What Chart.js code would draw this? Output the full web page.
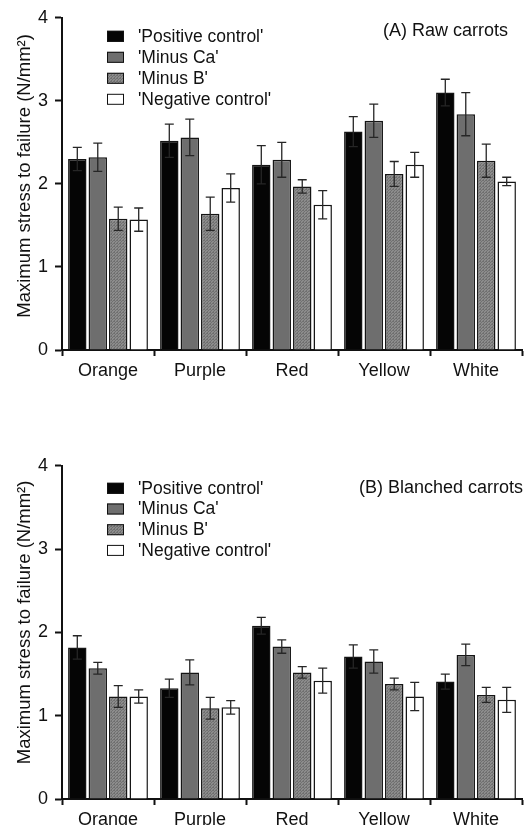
<!DOCTYPE html>
<html>
<head>
<meta charset="utf-8">
<script src="https://cdn.jsdelivr.net/npm/chart.js@4.4.1/dist/chart.umd.min.js"></script>
<style>
  html, body { margin: 0; padding: 0; background: #fff; }
  #wrap { position: relative; width: 528px; height: 825px; overflow: hidden; }
  .panel { position: absolute; left: 0; width: 528px; }
  #panelA { top: 0; height: 400px; }
  #panelB { top: 448px; height: 377px; }
</style>
</head>
<body>
<div id="wrap">
  <div class="panel" id="panelA"><canvas id="chartA"></canvas></div>
  <div class="panel" id="panelB"><canvas id="chartB"></canvas></div>
</div>
<script>
// Data
const categories = ['Orange', 'Purple', 'Red', 'Yellow', 'White'];
const seriesNames = ["'Positive control'", "'Minus Ca'", "'Minus B'", "'Negative control'"];
const yTicks = [0, 1, 2, 3, 4];
const yTitle = 'Maximum stress to failure (N/mm²)';

// (A) Raw carrots
const rawPositive = [2.30, 2.52, 2.23, 2.63, 3.10];
const rawMinusCa  = [2.32, 2.56, 2.29, 2.76, 2.84];
const rawMinusB   = [1.58, 1.64, 1.97, 2.12, 2.28];
const rawNegative = [1.57, 1.95, 1.75, 2.23, 2.03];
const rawPositiveErr = [0.14, 0.20, 0.23, 0.18, 0.16];
const rawMinusCaErr  = [0.17, 0.22, 0.21, 0.20, 0.26];
const rawMinusBErr   = [0.14, 0.20, 0.08, 0.15, 0.20];
const rawNegativeErr = [0.14, 0.17, 0.17, 0.15, 0.05];

// (B) Blanched carrots
const blPositive = [1.82, 1.33, 2.08, 1.71, 1.41];
const blMinusCa  = [1.57, 1.52, 1.83, 1.65, 1.73];
const blMinusB   = [1.23, 1.09, 1.52, 1.38, 1.25];
const blNegative = [1.23, 1.10, 1.42, 1.23, 1.19];
const blPositiveErr = [0.14, 0.11, 0.10, 0.14, 0.09];
const blMinusCaErr  = [0.07, 0.15, 0.08, 0.14, 0.13];
const blMinusBErr   = [0.13, 0.13, 0.07, 0.07, 0.09];
const blNegativeErr = [0.08, 0.08, 0.15, 0.17, 0.15];

const FONT = "'Liberation Sans', Arial, sans-serif";

// fine stipple fill for 'Minus B'
function makeDotPattern() {
    const c = document.createElement('canvas');
    c.width = 3; c.height = 3;
    const g = c.getContext('2d');
    g.fillStyle = '#8c8c8c';
    g.fillRect(0, 0, 3, 3);
    g.fillStyle = '#707070';
    g.fillRect(0, 0, 1, 1);
    g.fillRect(2, 0, 1, 1);
    g.fillRect(1, 1, 1, 1);
    g.fillRect(0, 2, 1, 1);
    return g.createPattern(c, 'repeat');
}

const fills = ['#050505', '#6e6e6e', null, '#ffffff'];

// error bars drawn on top of the bars
const errorBars = {
    id: 'errorBars',
    afterDatasetsDraw(chart) {
        const ctx = chart.ctx;
        const y = chart.scales.y;
        ctx.save();
        ctx.strokeStyle = '#262626';
        ctx.lineWidth = 1.3;
        chart.data.datasets.forEach((ds, i) => {
            const meta = chart.getDatasetMeta(i);
            meta.data.forEach((bar, j) => {
                const v = ds.data[j], e = ds.err[j];
                const top = y.getPixelForValue(v + e);
                const bot = y.getPixelForValue(v - e);
                ctx.beginPath();
                ctx.moveTo(bar.x, top); ctx.lineTo(bar.x, bot);
                ctx.moveTo(bar.x - 4.5, top); ctx.lineTo(bar.x + 4.5, top);
                ctx.moveTo(bar.x - 4.5, bot); ctx.lineTo(bar.x + 4.5, bot);
                ctx.stroke();
            });
        });
        ctx.restore();
    }
};

// legend block, panel title and y-axis title
const panelNotes = {
    id: 'panelNotes',
    afterDraw(chart, args, opts) {
        const ctx = chart.ctx;
        const area = chart.chartArea;
        ctx.save();
        ctx.font = '17.5px ' + FONT;
        ctx.textBaseline = 'middle';
        chart.data.datasets.forEach((ds, i) => {
            const cy = area.top + opts.legendTop + i * opts.legendGap;
            ctx.fillStyle = ds.backgroundColor;
            ctx.fillRect(107, cy - 5, 17, 11);
            ctx.strokeStyle = '#111';
            ctx.lineWidth = 1;
            ctx.strokeRect(107.5, cy - 4.5, 16, 10);
            ctx.fillStyle = '#111';
            ctx.textAlign = 'left';
            ctx.fillText(ds.label, 138, cy + 1);
        });
        ctx.font = '18px ' + FONT;
        ctx.textAlign = 'right';
        ctx.fillText(opts.title, opts.titleRight, area.top + opts.titleTop);

        // rotated axis title
        ctx.translate(25, (area.top + area.bottom) / 2 - opts.yTitleShift);
        ctx.rotate(-Math.PI / 2);
        ctx.textAlign = 'center';
        ctx.font = '18.5px ' + FONT;
        ctx.fillText(yTitle, 0, 0);
        ctx.restore();
    }
};

function buildChart(canvasId, values, errs, notes) {
    const dotFill = makeDotPattern();
    const datasets = seriesNames.map((name, i) => ({
        label: name,
        data: values[i],
        err: errs[i],
        backgroundColor: i === 2 ? dotFill : fills[i],
        borderColor: '#151515',
        borderWidth: 1.5,
        barPercentage: 0.9,
        categoryPercentage: 0.89
    }));

    return new Chart(document.getElementById(canvasId), {
        type: 'bar',
        data: { labels: categories, datasets: datasets },
        options: {
            responsive: true,
            maintainAspectRatio: false,
            animation: false,
            layout: { padding: { top: 15, right: 6, left: 0, bottom: 0 } },
            plugins: {
                legend: { display: false },
                tooltip: { enabled: false },
                panelNotes: notes
            },
            scales: {
                x: {
                    offset: true,
                    grid: {
                        offset: true,
                        drawOnChartArea: false,
                        drawTicks: true,
                        tickLength: 6,
                        tickWidth: 2,
                        tickColor: '#111'
                    },
                    border: { display: true, color: '#111', width: 2 },
                    ticks: {
                        color: '#111',
                        padding: 4,
                        maxRotation: 0,
                        font: { family: FONT, size: 18 }
                    },
                    afterFit(scale) { scale.height = notes.xAxisHeight; }
                },
                y: {
                    min: 0,
                    max: 4,
                    afterBuildTicks(scale) { scale.ticks = yTicks.map(v => ({ value: v })); },
                    grid: {
                        drawOnChartArea: false,
                        drawTicks: true,
                        tickLength: 7,
                        tickWidth: 2,
                        tickColor: '#111'
                    },
                    border: { display: true, color: '#111', width: 2 },
                    ticks: {
                        color: '#111',
                        padding: 7,
                        font: { family: FONT, size: 18 }
                    },
                    afterFit(scale) { scale.width = 62; }
                }
            }
        },
        plugins: [errorBars, panelNotes]
    });
}

buildChart('chartA',
    [rawPositive, rawMinusCa, rawMinusB, rawNegative],
    [rawPositiveErr, rawMinusCaErr, rawMinusBErr, rawNegativeErr],
    { title: '(A) Raw carrots', titleRight: 508, titleTop: 13, legendTop: 18, legendGap: 21,
      xAxisHeight: 50, yTitleShift: 8 });

buildChart('chartB',
    [blPositive, blMinusCa, blMinusB, blNegative],
    [blPositiveErr, blMinusCaErr, blMinusBErr, blNegativeErr],
    { title: '(B) Blanched carrots', titleRight: 523, titleTop: 22, legendTop: 22, legendGap: 20.7,
      xAxisHeight: 26, yTitleShift: 10 });
</script>
</body>
</html>
